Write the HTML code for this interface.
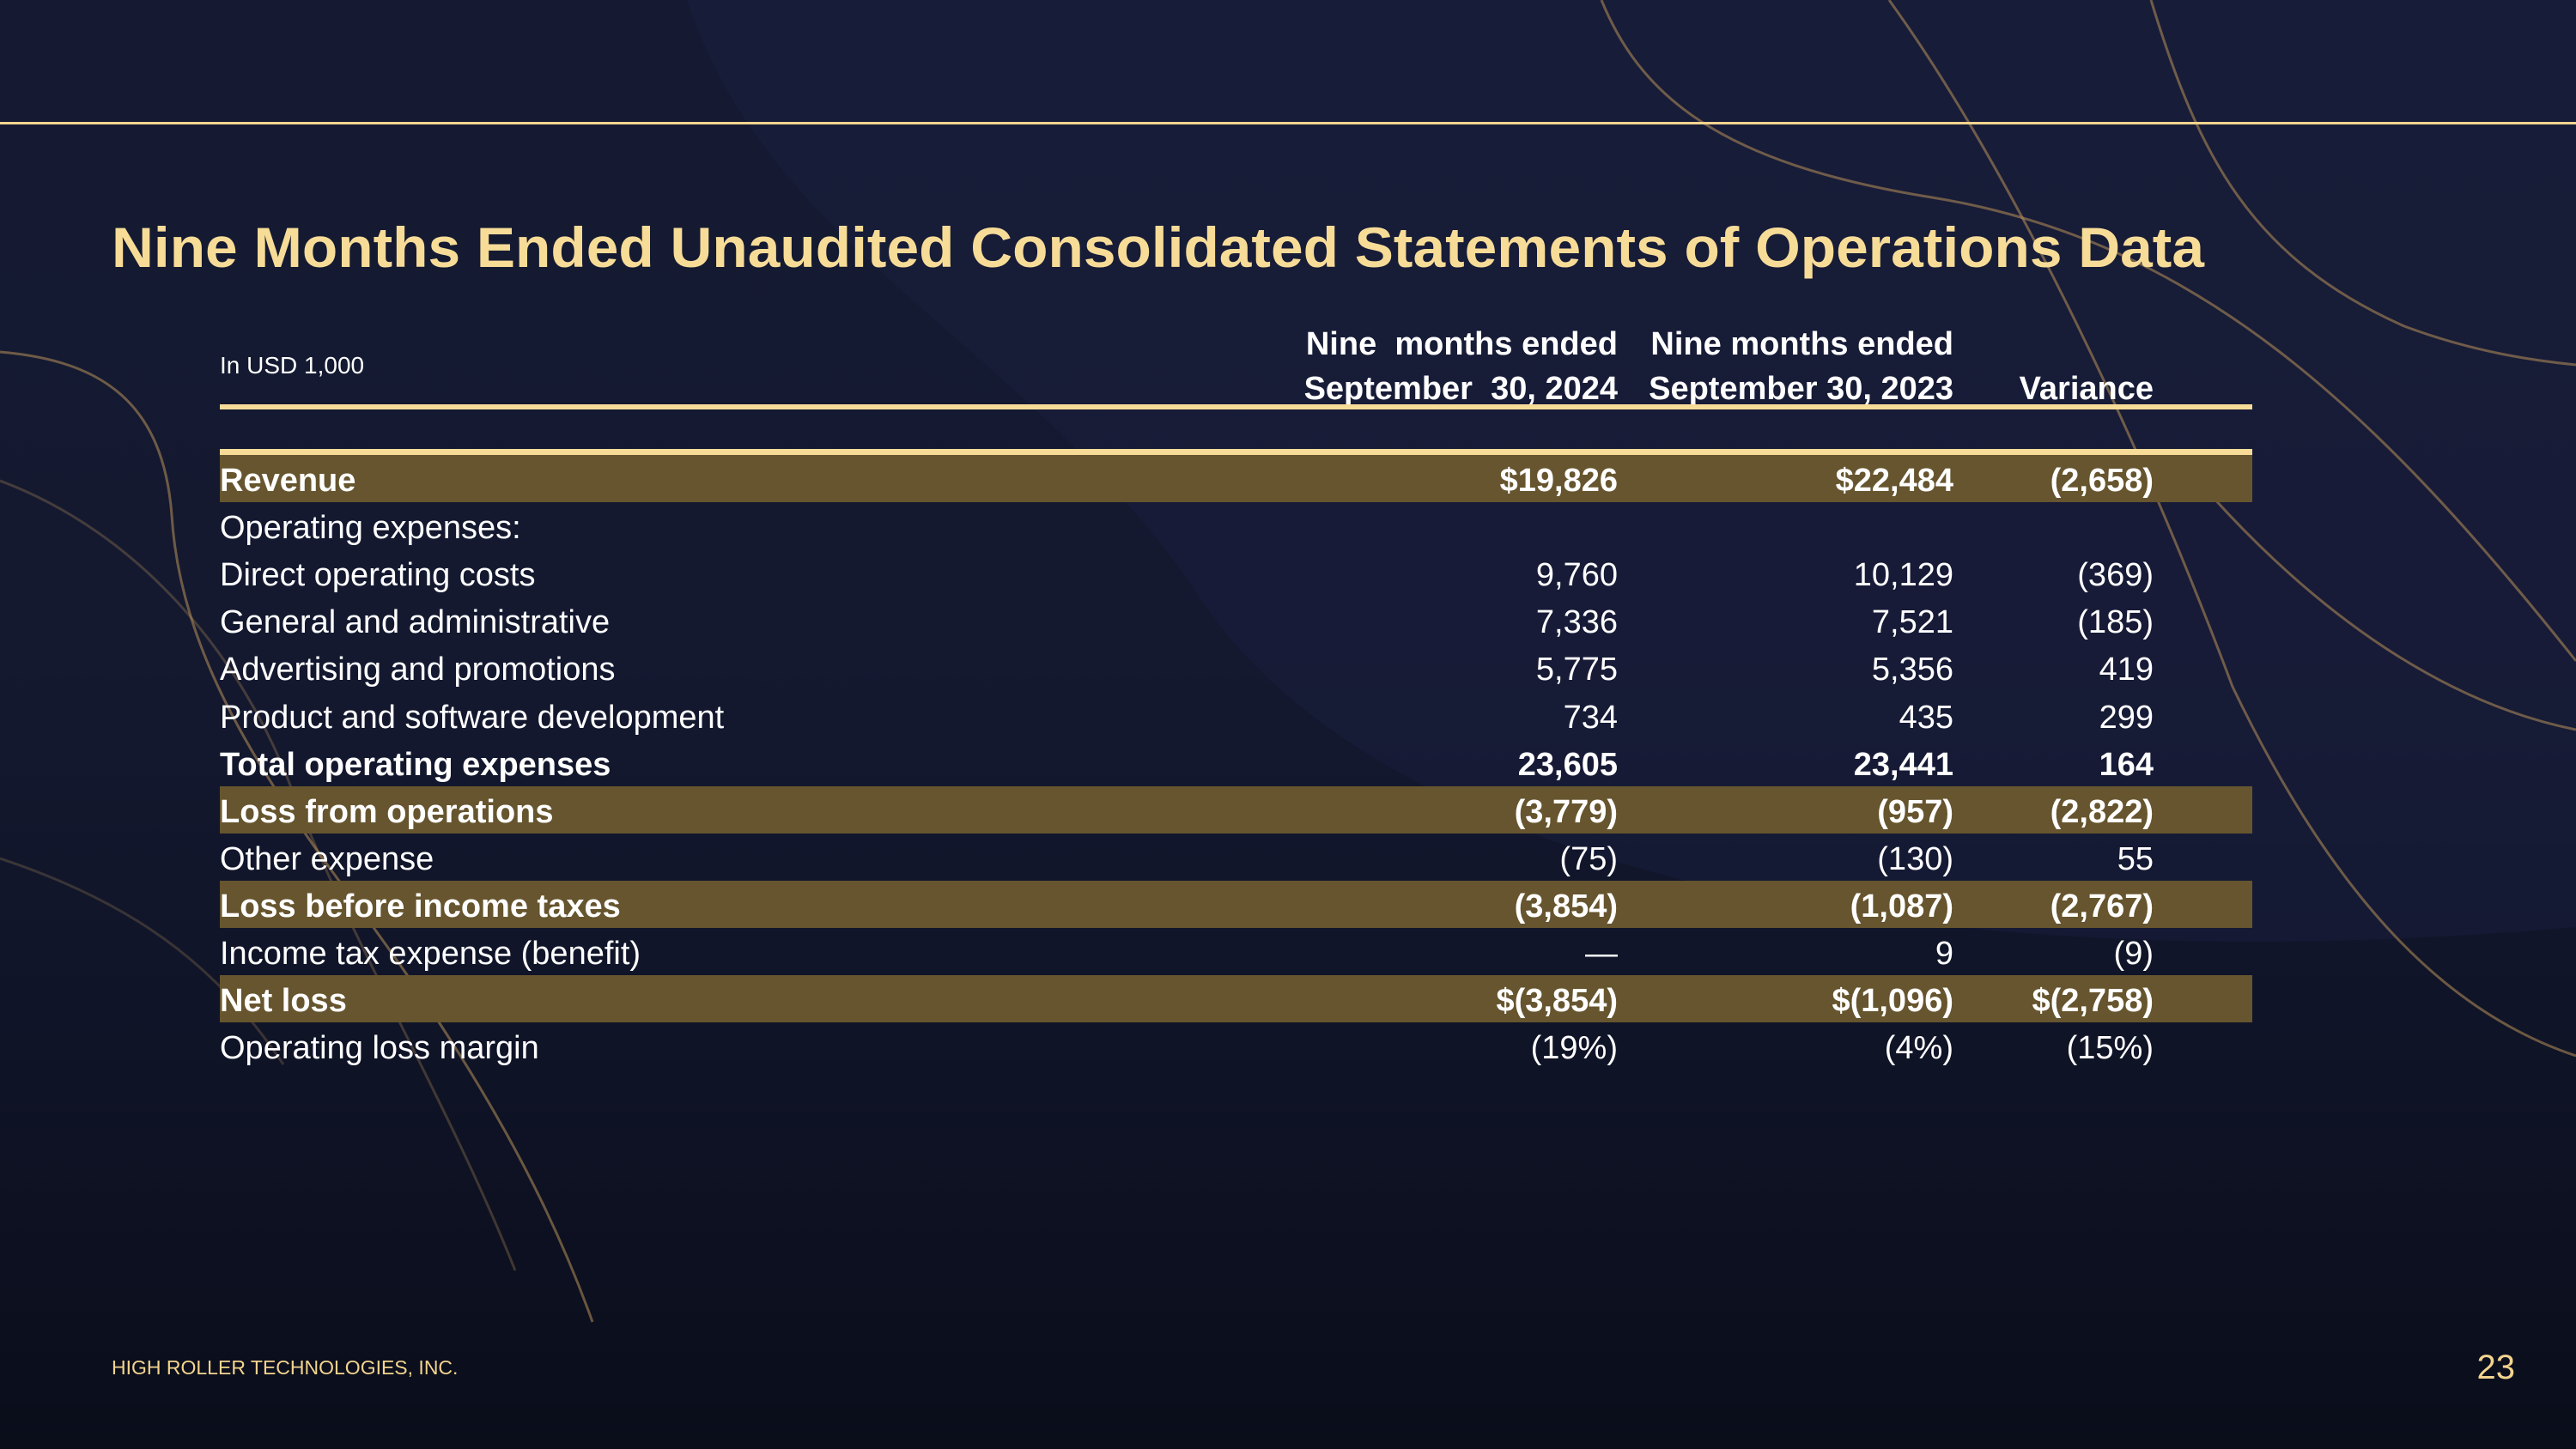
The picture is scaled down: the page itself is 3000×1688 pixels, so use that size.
<!DOCTYPE html>
<html><head><meta charset="utf-8">
<style>
html,body{margin:0;padding:0;}
body{width:3000px;height:1688px;overflow:hidden;position:relative;
background:linear-gradient(180deg,#151a32 0%,#141930 45%,#0f1326 75%,#0a0d1a 100%);
font-family:"Liberation Sans",sans-serif;color:#fff;}
.abs{position:absolute;}
.row{position:absolute;left:256px;width:2367px;height:55px;}
.band{background:#66552e;}
.lab{position:absolute;left:0;top:0;line-height:55px;font-size:38px;white-space:nowrap;}
.num{position:absolute;top:0;line-height:55px;font-size:38px;text-align:right;white-space:nowrap;}
.b{font-weight:bold;}
.hdr{position:absolute;font-size:38px;font-weight:bold;text-align:right;white-space:nowrap;}
</style></head>
<body>
<svg class="abs" style="left:0;top:0" width="3000" height="1688">
 <g fill="#1a2040" fill-opacity="0.45">
  <path d="M800,0 C900,300 1200,400 1400,700 C1600,1000 2200,1150 3000,1080 L3000,0 Z"/>
 </g>
 <g fill="none" stroke="#b8925a" stroke-opacity="0.55" stroke-width="3">
  <path d="M1865,0 C1910,110 2000,190 2250,230 C2560,280 2770,480 3000,770"/>
  <path d="M2200,0 C2330,180 2480,480 2600,800 C2720,1050 2850,1180 3000,1230"/>
  <path d="M2505,0 C2560,180 2620,300 2800,380 C2880,410 2950,420 3000,425"/>
  <path d="M2560,560 C2700,720 2850,820 3000,850"/>
  <path d="M0,410 C120,420 190,470 200,600 C210,760 300,900 420,1060 C560,1250 640,1400 690,1540"/>
  <path d="M0,560 C160,620 280,760 340,920 C420,1120 520,1280 600,1480" stroke-opacity="0.3"/>
  <path d="M0,1000 C150,1050 250,1120 330,1240" stroke-opacity="0.25"/>
 </g>
</svg>
<div class="abs" style="left:0;top:142px;width:3000px;height:3px;background:#f3d48e"></div>
<div id="title" class="abs" style="left:130px;top:250px;font-size:66px;font-weight:bold;color:#f7dc98;white-space:nowrap;transform-origin:0 0">Nine Months Ended Unaudited Consolidated Statements of Operations Data</div>
<div class="abs" style="left:256px;top:410px;font-size:28px;white-space:nowrap">In USD 1,000</div>
<div class="hdr" style="right:1116px;top:375px;line-height:52px">Nine&nbsp; months ended<br>September&nbsp; 30, 2024</div>
<div class="hdr" style="right:725px;top:375px;line-height:52px">Nine months ended<br>September 30, 2023</div>
<div class="hdr" style="right:492px;top:427px;line-height:52px">Variance</div>
<div class="abs" style="left:256px;top:471px;width:2367px;height:6px;background:#f7dc98"></div>
<div class="abs" style="left:256px;top:523px;width:2367px;height:7px;background:#f7dc98"></div>
<div id="table"></div>
<div class="abs" style="left:130px;top:1580px;font-size:23px;color:#f3d48e;white-space:nowrap">HIGH ROLLER TECHNOLOGIES, INC.</div>
<div class="abs" style="right:71px;top:1571px;font-size:40px;color:#f3d48e">23</div>
<script>
const labels=["Revenue","Operating expenses:","Direct operating costs","General and administrative","Advertising and promotions","Product and software development","Total operating expenses","Loss from operations","Other expense","Loss before income taxes","Income tax expense (benefit)","Net loss","Operating loss margin"];
const col2024=["$19,826","","9,760","7,336","5,775","734","23,605","(3,779)","(75)","(3,854)","—","$(3,854)","(19%)"];
const col2023=["$22,484","","10,129","7,521","5,356","435","23,441","(957)","(130)","(1,087)","9","$(1,096)","(4%)"];
const colVar=["(2,658)","","(369)","(185)","419","299","164","(2,822)","55","(2,767)","(9)","$(2,758)","(15%)"];
const boldRows=[1,0,0,0,0,0,1,1,0,1,0,1,0];
const bandRows=[1,0,0,0,0,0,0,1,0,1,0,1,0];
const table=document.getElementById('table');
const top0=530, step=55.1;
const rights=[1884-256,2275-256,2508-256];
labels.forEach((l,i)=>{
  const r=document.createElement('div');
  r.className='row'+(bandRows[i]?' band':'');
  r.style.top=(top0+i*step)+'px';
  
  
  const a=document.createElement('div');
  a.className='lab'+(boldRows[i]?' b':'');
  a.style.top='3px';
  a.textContent=l;
  
  
  r.appendChild(a);
  [col2024[i],col2023[i],colVar[i]].forEach((v,j)=>{
    const n=document.createElement('div');
    n.className='num'+(boldRows[i]?' b':'');
    n.style.right=(2367-rights[j])+'px';
    n.style.top='3px';
    n.textContent=v;
    
    
    r.appendChild(n);
  });
  table.appendChild(r);
});
const t=document.getElementById('title');
const w=t.getBoundingClientRect().width;
t.style.transform='scaleX('+(2437/w)+')';
</script>
</body></html>
